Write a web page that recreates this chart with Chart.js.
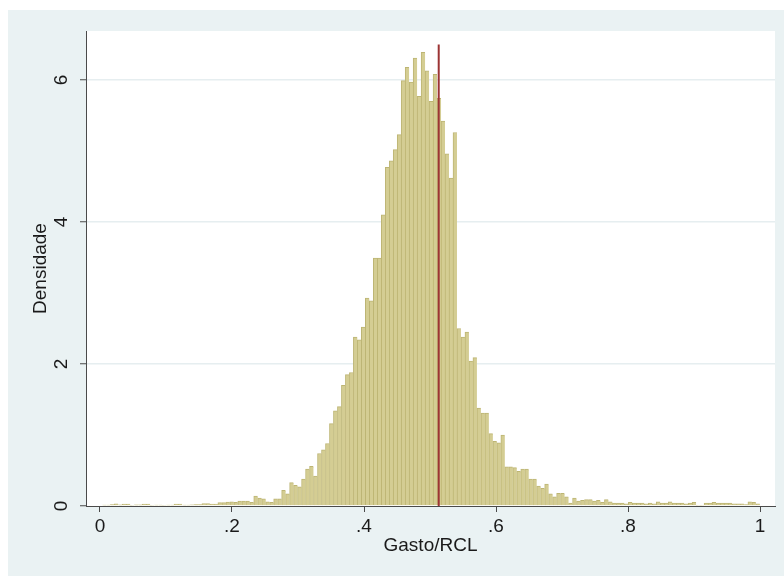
<!DOCTYPE html>
<html>
<head>
<meta charset="utf-8">
<script src="https://cdn.jsdelivr.net/npm/chart.js@4.4.1/dist/chart.umd.min.js"></script>
<style>
  html, body { margin: 0; padding: 0; background: #fff; }
  #wrap { width: 784px; height: 576px; }
</style>
</head>
<body>
<div id="wrap"><canvas id="hist" width="784" height="576"></canvas></div>
<script>
/* Histogram of Gasto/RCL: 165 bins of equal width, density scale */
const binStart = 0.0035;
const binWidth = 0.006038;
const density = [
  0.014, 0.014, 0.02, 0.03, 0.015, 0.028, 0.028, 0.01, 0.015, 0.015, 0.028,
  0.028, 0.01, 0.014, 0.014, 0.01, 0.014, 0.014, 0.028, 0.028, 0.014, 0.014,
  0.018, 0.02, 0.02, 0.035, 0.035, 0.028, 0.028, 0.047, 0.047, 0.056, 0.06,
  0.05, 0.07, 0.07, 0.07, 0.05, 0.14, 0.11, 0.10, 0.06, 0.05, 0.10,
  0.10, 0.22, 0.17, 0.33, 0.29, 0.27, 0.38, 0.52, 0.56, 0.42, 0.74,
  0.79, 0.88, 1.16, 1.34, 1.40, 1.70, 1.85, 1.88, 2.38, 2.34, 2.52,
  2.93, 2.89, 3.49, 3.49, 4.10, 4.77, 4.86, 5.02, 5.23, 5.99, 6.18,
  5.97, 6.31, 5.77, 6.39, 6.13, 5.70, 6.08, 5.74, 5.42, 4.96, 4.62,
  5.26, 2.50, 2.38, 2.45, 2.04, 2.09, 1.38, 1.31, 1.31, 1.02, 0.91,
  0.89, 1.00, 0.55, 0.55, 0.54, 0.49, 0.52, 0.52, 0.38, 0.38, 0.28,
  0.25, 0.31, 0.17, 0.13, 0.18, 0.18, 0.13, 0.04, 0.11, 0.07, 0.08,
  0.09, 0.09, 0.07, 0.08, 0.05, 0.09, 0.06, 0.04, 0.04, 0.04, 0.03,
  0.05, 0.04, 0.04, 0.04, 0.03, 0.04, 0.03, 0.06, 0.04, 0.04, 0.06,
  0.04, 0.04, 0.04, 0.03, 0.04, 0.05, 0.01, 0.01, 0.04, 0.04, 0.05,
  0.04, 0.04, 0.04, 0.04, 0.03, 0.03, 0.03, 0.02, 0.06, 0.05, 0.03
];

// vertical reference line (mean)
const meanValue = 0.5132;
const meanLineTop = 6.5;

const xTicks = [0, 0.2, 0.4, 0.6, 0.8, 1];
const xTickLabels = ['0', '.2', '.4', '.6', '.8', '1'];
const yTicks = [0, 2, 4, 6];
const yTickLabels = ['0', '2', '4', '6'];

const TEXT = '#1a1a1a';
const AXIS = '#4a4a4a';
const FONT = { family: "'Liberation Sans', Arial, sans-serif", size: 19 };

/* Stata-like graph region (light blue) with white plot region */
const regionFill = {
  id: 'regionFill',
  beforeDraw(chart) {
    const { ctx, chartArea: a, width, height } = chart;
    ctx.save();
    ctx.fillStyle = '#ffffff';
    ctx.fillRect(0, 0, width, height);
    ctx.fillStyle = '#eaf2f3';
    ctx.fillRect(8, 10, width - 8, height - 10);
    ctx.fillStyle = '#ffffff';
    ctx.fillRect(a.left, a.top, a.right - a.left, a.bottom - a.top);
    ctx.restore();
  }
};

const bars = density.map((h, i) => ({ x: binStart + (i + 0.5) * binWidth, y: h }));

new Chart(document.getElementById('hist'), {
  type: 'bar',
  data: {
    datasets: [
      {
        type: 'line',
        data: [{ x: meanValue, y: 0 }, { x: meanValue, y: meanLineTop }],
        borderColor: '#9c3434',
        borderWidth: 2,
        pointRadius: 0,
        fill: false,
        order: 0
      },
      {
        type: 'bar',
        data: bars,
        backgroundColor: '#d4cd93',
        borderColor: '#bdb574',
        borderWidth: { left: 1, top: 1, right: 0, bottom: 0 },
        borderSkipped: false,
        barPercentage: 1,
        categoryPercentage: 1,
        order: 1
      }
    ]
  },
  options: {
    responsive: false,
    animation: false,
    layout: { padding: { left: 8, top: 31, right: 9, bottom: 10 } },
    plugins: { legend: { display: false }, tooltip: { enabled: false } },
    scales: {
      x: {
        type: 'linear',
        min: -0.0212,
        max: 1.0227,
        offset: false,
        afterBuildTicks: s => { s.ticks = xTicks.map(v => ({ value: v })); },
        afterFit: s => { s.height = 60; },
        ticks: {
          callback: (v, i) => xTickLabels[i],
          color: TEXT, font: FONT, padding: 3,
          maxRotation: 0, autoSkip: false
        },
        grid: {
          display: true, drawOnChartArea: false, offset: false,
          tickLength: 6, tickColor: AXIS, tickWidth: 1
        },
        border: { color: AXIS, width: 1 },
        title: { display: true, text: 'Gasto/RCL', color: TEXT, font: FONT, padding: { top: 0, bottom: 9 } }
      },
      y: {
        min: 0,
        max: 6.69,
        afterBuildTicks: s => { s.ticks = yTicks.map(v => ({ value: v })); },
        afterFit: s => { s.width = 78; },
        ticks: {
          callback: (v, i) => yTickLabels[i],
          color: TEXT, font: FONT, padding: 13,
          minRotation: 90, maxRotation: 90,
          crossAlign: 'center', autoSkip: false
        },
        grid: {
          color: c => (c.tick && c.tick.value === 0 ? 'rgba(0,0,0,0)' : '#e6eef0'),
          lineWidth: 1.5,
          tickLength: 6, tickColor: AXIS, tickWidth: 1
        },
        border: { color: AXIS, width: 1 },
        title: { display: true, text: 'Densidade', color: TEXT, font: FONT, padding: { top: 21, bottom: 0 } }
      }
    }
  },
  plugins: [regionFill]
});
</script>
</body>
</html>
